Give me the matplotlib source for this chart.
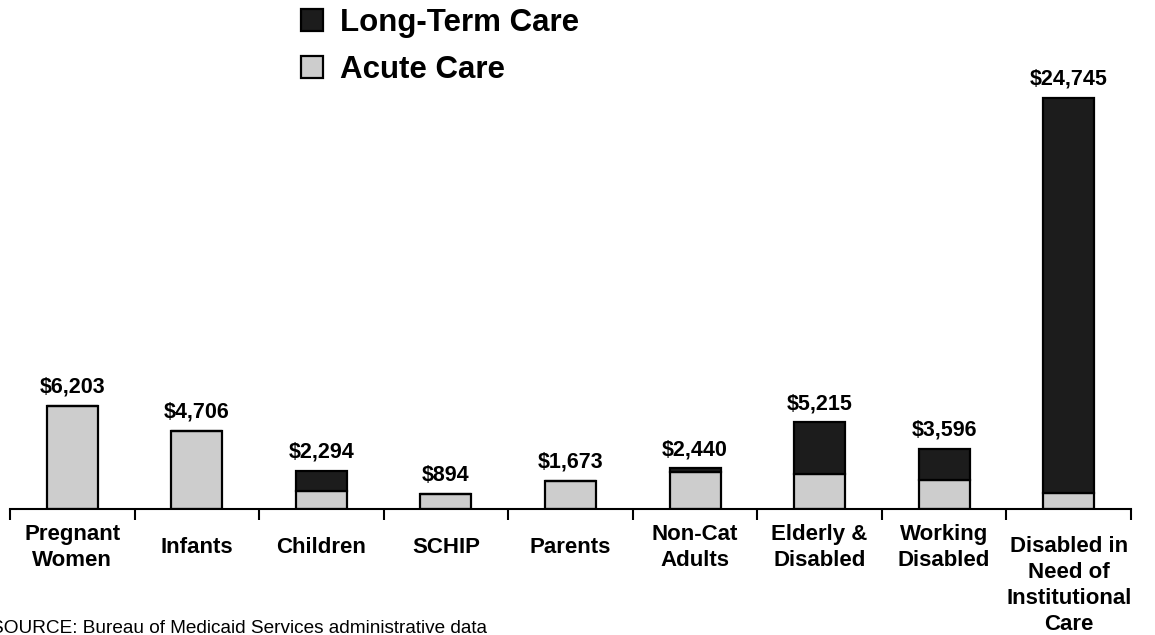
import matplotlib
matplotlib.use("Agg")
import matplotlib.pyplot as plt
import numpy as np

plt.rcParams['font.family'] = ['Liberation Sans', 'DejaVu Sans']

categories = ["Pregnant\nWomen", "Infants", "Children", "SCHIP", "Parents",
              "Non-Cat\nAdults", "Elderly &\nDisabled", "Working\nDisabled",
              "Disabled in\nNeed of\nInstitutional\nCare"]
totals = [6203, 4706, 2294, 894, 1673, 2440, 5215, 3596, 24745]
acute_care = [6203, 4706, 1080, 894, 1673, 2240, 2100, 1750, 960]
long_term_care = [t - a for t, a in zip(totals, acute_care)]

fig = plt.figure(figsize=(11.55, 6.35), dpi=100)
W, H = 1155, 635
ax = fig.add_axes([10 / W, (H - 509) / H, (1131 - 10) / W, (509 - 60.5) / H])

x = np.arange(len(categories))
bw = 0.41
acute_color = "#cdcdcd"
ltc_color = "#1c1c1c"

b_acute = ax.bar(x, acute_care, width=bw, color=acute_color,
                 edgecolor="black", linewidth=1.6, label="Acute Care", zorder=2)
b_ltc = ax.bar(x, long_term_care, width=bw, bottom=acute_care, color=ltc_color,
               edgecolor="black", linewidth=1.6, label="Long-Term Care", zorder=2)

for xi, t in zip(x, totals):
    ax.annotate(f"${t:,}", (xi, t), xytext=(0, 6), textcoords="offset points",
                ha="center", va="bottom", fontsize=15.5, fontweight="bold")

ax.set_xlim(-0.5, len(categories) - 0.5)
ax.set_ylim(0, 27000)
ax.set_yticks([])
for s in ("top", "right", "left"):
    ax.spines[s].set_visible(False)
ax.spines["bottom"].set_linewidth(1.5)

# category separators on the baseline
ax.set_xticks([])
ax.set_xticks(np.arange(-0.5, len(categories)), minor=True)
ax.tick_params(axis="x", which="minor", length=8, width=1.5, direction="out")

# category names below the axis; short names centred on one band,
# the long four-line name hangs down from the first line
for xi, name in zip(x, categories):
    n_lines = name.count("\n") + 1
    if n_lines > 2:
        off, va = -19.5, "top"
    else:
        off, va = -27.5, "center"
    ax.annotate(name, (xi, 0), xycoords=("data", "axes fraction"),
                xytext=(0, off), textcoords="offset points",
                ha="center", va=va, fontsize=16, fontweight="bold",
                linespacing=1.32, annotation_clip=False)

ax.legend(handles=[b_ltc, b_acute], labels=["Long-Term Care", "Acute Care"],
          loc="upper left", bbox_to_anchor=(301 / W, 1 - 8 / H),
          bbox_transform=fig.transFigure, frameon=False,
          prop={"size": 22.5, "weight": "bold"}, handlelength=0.7,
          handleheight=0.7, handletextpad=0.55, labelspacing=0.55,
          borderaxespad=0, borderpad=0)

fig.text(-9 / W, 1 - 633 / H, "SOURCE: Bureau of Medicaid Services administrative data",
         fontsize=13.7, ha="left", va="baseline")

fig.savefig("out.png", dpi=100)
